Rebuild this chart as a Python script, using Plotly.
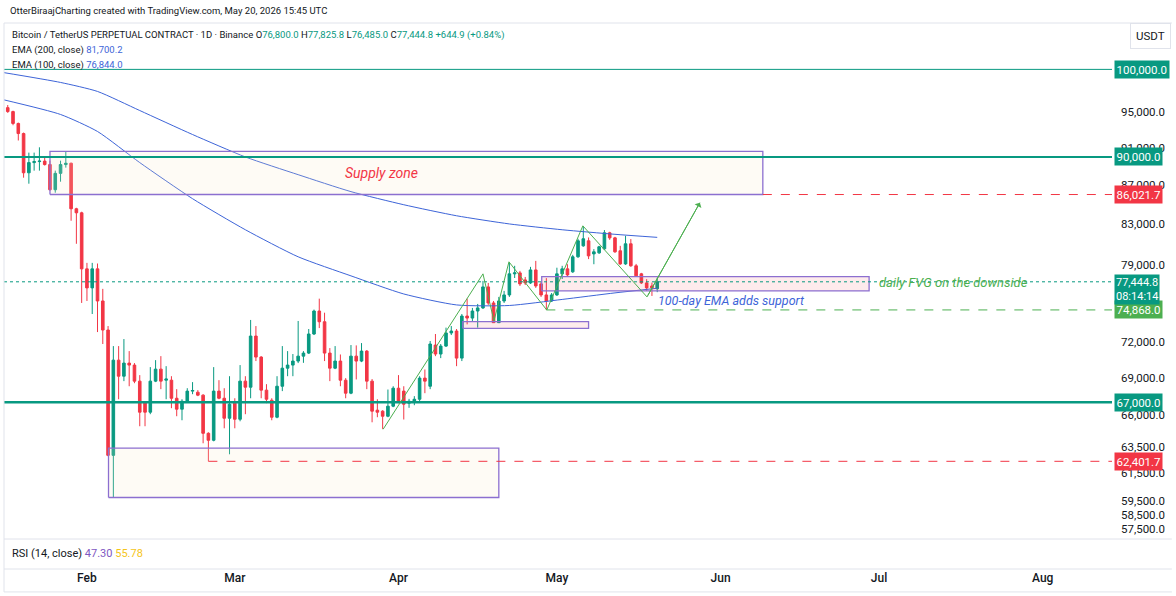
import math
import pandas as pd
import plotly.graph_objects as go

# daily candles, BTCUSDT perp
dates = pd.date_range("2026-01-17", periods=124, freq="D")
opens = [
    95500, 95050, 93700, 92570, 88300, 89390, 89500, 89550, 89180, 86520,
    88240, 89180, 89320, 84560, 84150, 78660, 76880, 78660, 75680, 73080,
    62850, 70480, 69130, 70230, 70060, 68720, 66950, 66200, 68720, 69720,
    68800, 68800, 67320, 66440, 67080, 67900, 67810, 67570, 64540, 64000,
    67900, 67320, 65720, 66920, 65640, 68720, 68220, 72550, 70740, 67980,
    67160, 65800, 68300, 69800, 70060, 70400, 70820, 71080, 72730, 74770,
    73810, 71080, 69800, 70400, 68800, 67730, 70820, 70400, 71250, 68720,
    66360, 66280, 65880, 66680, 68140, 67900, 66920, 67080, 67240, 68970,
    68300, 71770, 71000, 71680, 72820, 72990, 70650, 74320, 74140, 74770,
    75050, 76970, 75500, 73730, 75680, 76230, 78190, 78280, 77620, 77340,
    78560, 77250, 76230, 75680, 76230, 78190, 78660, 78380, 79810, 80870,
    81360, 80090, 80190, 80580, 82150, 81650, 80390, 79130, 81070, 78950,
    78190, 77340, 77060, 76800]
highs = [
    95800, 95150, 93800, 92680, 90470, 90470, 91050, 89930, 89600, 88530,
    89600, 90580, 89390, 84660, 84260, 79230, 79230, 79170, 76790, 73430,
    71680, 71680, 72290, 71250, 70230, 69220, 67080, 69890, 70480, 70820,
    69970, 69130, 68060, 67240, 68140, 68640, 67980, 67650, 64620, 69890,
    68800, 68140, 69130, 67320, 70060, 69130, 73970, 73430, 70820, 68470,
    67320, 69130, 71680, 71250, 71000, 73880, 71250, 73170, 74900, 75890,
    74620, 71510, 71680, 70960, 68970, 71770, 71740, 71940, 71340, 68890,
    67240, 66360, 68030, 68300, 69220, 68300, 67270, 67490, 69130, 69690,
    72120, 72730, 71860, 73290, 73430, 73170, 74500, 75890, 75050, 75410,
    77530, 77340, 75680, 76050, 76600, 79230, 78950, 78470, 77900, 78850,
    79420, 77440, 77790, 76410, 78770, 78950, 79100, 80000, 81560, 82750,
    81690, 80550, 80870, 82420, 82250, 81750, 80870, 81850, 81530, 79130,
    78280, 77690, 77370, 77825.8]
lows = [
    94900, 93500, 91800, 87780, 87150, 88530, 88530, 89070, 86420, 86210,
    87360, 88850, 83350, 81070, 75500, 75680, 74500, 72900, 71860, 62780,
    59740, 67240, 68720, 68300, 68550, 65090, 65090, 66040, 68640, 68060,
    67240, 66520, 65880, 65560, 67000, 67650, 67490, 63770, 62401.7, 63920,
    67240, 64930, 62930, 64930, 65480, 66040, 67320, 70400, 67320, 66920,
    65560, 65720, 67900, 69130, 69130, 70230, 70250, 71000, 72640, 73250,
    70400, 68720, 69720, 68300, 67320, 67650, 68860, 70310, 68060, 65400,
    65800, 64880, 65800, 66600, 66920, 65620, 66550, 66760, 67080, 67730,
    68060, 70820, 70650, 71600, 72640, 69970, 70400, 73580, 73880, 73290,
    74950, 75320, 73700, 73700, 75500, 76050, 77800, 77060, 77150, 77250,
    76880, 76050, 74868, 75590, 76140, 77710, 77900, 78280, 79710, 80780,
    79590, 79100, 80090, 80480, 81460, 80190, 79040, 79040, 78860, 77900,
    77250, 76600, 76140, 76485]
closes = [
    95050, 93700, 92570, 88300, 89390, 89500, 89550, 89180, 86520, 88240,
    89180, 89320, 84560, 84150, 78660, 76880, 78660, 75680, 73080, 62850,
    70480, 69130, 70230, 70060, 68720, 66200, 66200, 68720, 69720, 68720,
    68900, 67320, 66440, 67080, 67900, 67950, 67570, 64540, 64000, 67900,
    67320, 65720, 66840, 65640, 68720, 68220, 72550, 70740, 67980, 67240,
    65800, 68300, 69800, 70060, 70400, 70820, 71080, 72730, 74770, 73810,
    71080, 69800, 70400, 68800, 67730, 70820, 70400, 71250, 68720, 66280,
    66200, 65880, 66680, 68140, 67080, 66840, 67080, 67240, 68970, 68720,
    71860, 71000, 71680, 72820, 72990, 70650, 74320, 74140, 74770, 75050,
    76970, 75500, 73730, 75680, 76230, 78190, 78280, 77250, 77340, 78560,
    77060, 76230, 75680, 76230, 78190, 78660, 78090, 79810, 81360, 81560,
    79900, 80290, 80780, 82150, 81650, 80290, 79130, 81070, 78950, 78000,
    77340, 76880, 76880, 77444.8]

# EMA values read at a few dates
ema_dates = ["2026-01-16", "2026-01-27", "2026-02-03", "2026-02-11", "2026-02-21",
             "2026-03-03", "2026-03-13", "2026-03-23", "2026-04-02", "2026-04-12",
             "2026-04-22", "2026-05-02", "2026-05-12", "2026-05-20"]
ema200 = [99640, 98440, 97380, 95170, 92460, 90000, 88100, 86320, 84970, 83850,
          83030, 82450, 82000, 81700.2]
ema100 = [96440, 94720, 92800, 89390, 85590, 82450, 79810, 78000, 76320, 75320,
          75270, 75820, 76420, 76844.0]

# drawings
zigzag_dates = ["2026-03-29 02:00", "2026-04-17", "2026-04-19 02:00", "2026-04-21 22:00",
                "2026-04-29 02:00", "2026-05-05 22:00", "2026-05-18 01:30", "2026-05-28 02:00"]
zigzag_prices = [64850, 78190, 73880, 79330, 74860, 82840, 76050, 85180]

supply_zone = ["2026-01-25", "2026-06-09", 86021.7, 90600]
demand_box = ["2026-02-05 02:00", "2026-04-20", 59740, 63400]
small_box = ["2026-04-13 04:00", "2026-05-07", 73230, 73815]
fvg_box = ["2026-04-28 03:00", "2026-06-29 03:00", 76600, 77930]

teal_levels = [100000, 90000, 67000]
last_price = 77444.8
support_level = 74868.0
red_levels = [86021.7, 62401.7]
red_starts = ["2026-06-09", "2026-02-24"]
support_start = "2026-04-29"

tick_vals = [95000, 91000, 87000, 83000, 79000, 72000, 69000, 66000,
             63500, 61500, 59500, 58500, 57500]
tick_text = [f"{v:,.1f}" for v in tick_vals]

FONT = "Roboto, sans-serif"
UP = "#089981"
DOWN = "#F23645"
TEAL = "#089981"
GREEN = "#4CAF50"
BLUE = "#3d64d8"
PURPLE = "#8c6fd0"
TXT = "#131722"
X_START = "2026-01-16 07:00"
X_END = "2026-08-14 03:00"

fig = go.Figure()

fig.add_trace(go.Candlestick(
    x=dates, open=opens, high=highs, low=lows, close=closes,
    increasing=dict(line=dict(color=UP, width=1), fillcolor=UP),
    decreasing=dict(line=dict(color=DOWN, width=1), fillcolor=DOWN),
    whiskerwidth=0, showlegend=False, hoverinfo="skip"))

for vals in (ema200, ema100):
    fig.add_trace(go.Scatter(x=ema_dates, y=vals, mode="lines",
                             line=dict(color=BLUE, width=1, shape="spline", smoothing=0.6),
                             showlegend=False, hoverinfo="skip"))


def box(b, fill):
    x0, x1, y0, y1 = b
    fig.add_trace(go.Scatter(x=[x0, x1, x1, x0, x0], y=[y0, y0, y1, y1, y0],
                             mode="lines", fill="toself", fillcolor=fill,
                             line=dict(color=PURPLE, width=1.3),
                             showlegend=False, hoverinfo="skip"))


box(supply_zone, "rgba(250, 235, 200, 0.18)")
box(demand_box, "rgba(250, 235, 200, 0.18)")
box(small_box, "rgba(242, 54, 69, 0.10)")
box(fvg_box, "rgba(242, 54, 69, 0.10)")


def hline(y, x0, x1, color, width, dash="solid"):
    fig.add_trace(go.Scatter(x=[x0, x1], y=[y, y], mode="lines",
                             line=dict(color=color, width=width, dash=dash),
                             showlegend=False, hoverinfo="skip"))


hline(last_price, X_START, X_END, TEAL, 1, "dot")
for lv, w in zip(teal_levels, [1, 2, 2.5]):
    hline(lv, X_START, X_END, TEAL, w)
for lv, st in zip(red_levels, red_starts):
    hline(lv, st, X_END, DOWN, 1, "dash")
hline(support_level, support_start, X_END, GREEN, 1, "dash")

fig.add_trace(go.Scatter(x=zigzag_dates, y=zigzag_prices, mode="lines",
                         line=dict(color=GREEN, width=1),
                         showlegend=False, hoverinfo="skip"))

L = math.log10
ann = []
# arrow head on last leg
ann.append(dict(x=zigzag_dates[-1], y=L(zigzag_prices[-1]), ax=zigzag_dates[-2],
                ay=L(zigzag_prices[-2]), xref="x", yref="y", axref="x", ayref="y",
                showarrow=True, arrowhead=1, arrowsize=1.3, arrowwidth=1,
                arrowcolor=GREEN, text=""))
ann.append(dict(x="2026-03-21 12:00", y=L(88320), xref="x", yref="y", text="Supply zone",
                showarrow=False, xanchor="left", yanchor="middle",
                font=dict(family=FONT, size=14, color=DOWN, style="italic")))
ann.append(dict(x="2026-05-19 20:00", y=L(75680), xref="x", yref="y",
                text="100-day EMA adds support", showarrow=False, xanchor="left",
                yanchor="middle", font=dict(family=FONT, size=12.5, color=BLUE, style="italic")))
ann.append(dict(x="2026-06-30 15:00", y=L(77370), xref="x", yref="y",
                text="daily FVG on the downside", showarrow=False, xanchor="left",
                yanchor="middle", font=dict(family=FONT, size=13, color=GREEN, style="italic")))

# price tags on the axis
tags = [(100000, "100,000.0", TEAL), (90000, "90,000.0", TEAL), (86021.7, "86,021.7", DOWN),
        (67000, "67,000.0", TEAL), (62401.7, "62,401.7", DOWN), (support_level, "74,868.0", GREEN)]
for p, t, c in tags:
    ann.append(dict(x=1, y=L(p), xref="paper", yref="y", text=t, showarrow=False,
                    xanchor="left", yanchor="middle", xshift=2, bgcolor=c, borderpad=1.5,
                    font=dict(family=FONT, size=11.5, color="white")))
ann.append(dict(x=1, y=L(last_price), xref="paper", yref="y", text="77,444.8<br>08:14:14",
                showarrow=False, xanchor="left", yanchor="top", xshift=2, yshift=8,
                bgcolor=TEAL, borderpad=1, align="left",
                font=dict(family=FONT, size=11, color="white")))
ann.append(dict(x=1.035, y=0.976, xref="paper", yref="paper", text="USDT", showarrow=False,
                xanchor="center", yanchor="middle", bordercolor="#e0e3eb", borderwidth=1,
                borderpad=5, bgcolor="white", font=dict(family=FONT, size=11.5, color=TXT)))

# header and legend
g = lambda s: f"<span style='color:{UP}'>{s}</span>"
b = lambda s: f"<span style='color:{BLUE}'>{s}</span>"
ann.append(dict(x=0.0036, y=1.022, xref="paper", yref="paper", showarrow=False,
                xanchor="left", yanchor="middle",
                text="OtterBiraajCharting created with TradingView.com, May 20, 2026 15:45 UTC",
                font=dict(family=FONT, size=9.5, color=TXT)))
line1 = ("Bitcoin / TetherUS PERPETUAL CONTRACT · 1D · Binance O" + g("76,800.0") +
         " H" + g("77,825.8") + " L" + g("76,485.0") + " C" + g("77,444.8") +
         " " + g("+644.9 (+0.84%)"))
for yy, t in [(0.978, line1), (0.9505, "EMA (200, close) " + b("81,700.2")),
              (0.923, "EMA (100, close) " + b("76,844.0"))]:
    ann.append(dict(x=0.0054, y=yy, xref="paper", yref="paper", text=t, showarrow=False,
                    xanchor="left", yanchor="middle", font=dict(family=FONT, size=9.5, color=TXT)))
ann.append(dict(x=0.0054, y=0.0293, xref="paper", yref="paper", showarrow=False,
                xanchor="left", yanchor="middle",
                text="RSI (14, close) <span style='color:#7E57C2'>47.30</span> "
                     "<span style='color:#F5C518'>55.78</span>",
                font=dict(family=FONT, size=11, color=TXT)))

frame = "#e0e3eb"
shapes = [
    dict(type="line", xref="paper", yref="paper", x0=0, x1=1.054, y0=1, y1=1,
         line=dict(color=frame, width=1)),
    dict(type="line", xref="paper", yref="paper", x0=0, x1=0, y0=-0.042, y1=1,
         line=dict(color=frame, width=1)),
    dict(type="line", xref="paper", yref="paper", x0=0, x1=1.054, y0=0.0549, y1=0.0549,
         line=dict(color=frame, width=1)),
    dict(type="line", xref="paper", yref="paper", x0=0, x1=1.054, y0=0, y1=0,
         line=dict(color=frame, width=1)),
    dict(type="line", xref="paper", yref="paper", x0=0, x1=1.054, y0=-0.042, y1=-0.042,
         line=dict(color=frame, width=1)),
]

fig.update_layout(
    width=1176, height=596,
    margin=dict(l=4, r=64, t=23, b=27),
    paper_bgcolor="white", plot_bgcolor="white",
    showlegend=False,
    annotations=ann, shapes=shapes,
    xaxis=dict(type="date", range=[X_START, X_END], rangeslider=dict(visible=False),
               showgrid=False, zeroline=False, showline=False, ticks="",
               tick0="2026-02-01", dtick="M1", tickformat="%b",
               anchor="free", position=0,
               tickfont=dict(family=FONT, size=12, color=TXT, weight=500)),
    yaxis=dict(type="log", range=[L(56830), L(105740)], side="right",
               domain=[0.0549, 1], showgrid=False, zeroline=False, showline=False,
               ticks="", tickvals=tick_vals, ticktext=tick_text, ticklabelstandoff=8,
               tickfont=dict(family=FONT, size=11.5, color=TXT)),
)

# drop the default page margin so the chart sits at the window's corner
fig.write_html("out.html", config={"displayModeBar": False},
               post_script="document.body.style.margin='0';document.body.style.overflow='hidden';")
